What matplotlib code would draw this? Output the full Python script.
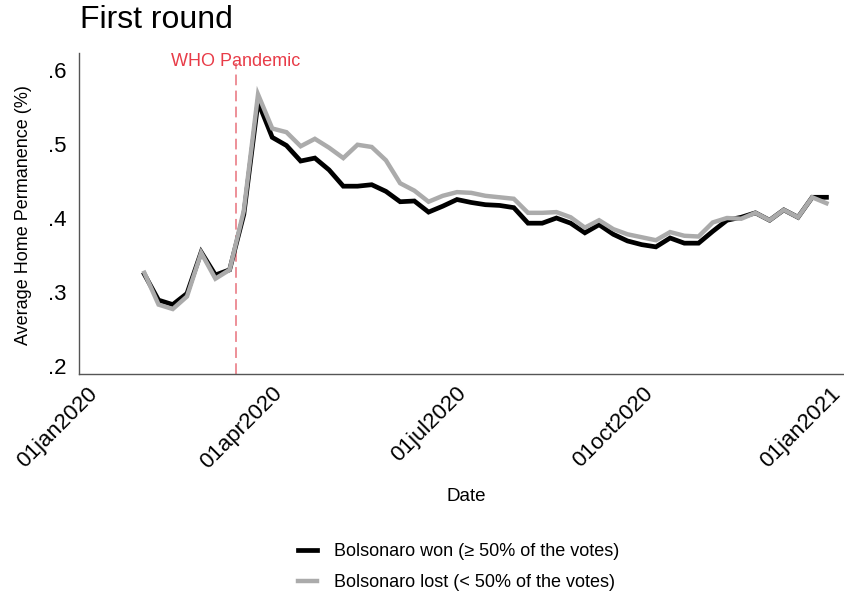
import matplotlib
matplotlib.use("Agg")
import matplotlib.pyplot as plt
from matplotlib.transforms import ScaledTranslation
import pandas as pd

plt.rcParams["font.family"] = ["Liberation Sans", "DejaVu Sans"]

# Weekly average home permanence by municipality group
weeks = pd.date_range("2020-01-26", periods=49, freq="7D")

bolsonaro_won = [
    0.324, 0.289, 0.283, 0.298, 0.354, 0.323, 0.330, 0.405, 0.557, 0.509,
    0.498, 0.477, 0.481, 0.465, 0.443, 0.443, 0.445, 0.436, 0.422, 0.423,
    0.408, 0.416, 0.425, 0.421, 0.418, 0.417, 0.414, 0.393, 0.393, 0.400,
    0.393, 0.380, 0.391, 0.378, 0.369, 0.364, 0.361, 0.373, 0.366, 0.366,
    0.382, 0.397, 0.401, 0.407, 0.397, 0.411, 0.401, 0.428, 0.428,
]
bolsonaro_lost = [
    0.326, 0.283, 0.277, 0.294, 0.353, 0.318, 0.330, 0.410, 0.567, 0.521,
    0.516, 0.497, 0.507, 0.495, 0.481, 0.499, 0.496, 0.478, 0.447, 0.437,
    0.422, 0.430, 0.435, 0.434, 0.430, 0.428, 0.426, 0.407, 0.407, 0.408,
    0.401, 0.387, 0.397, 0.385, 0.378, 0.374, 0.370, 0.381, 0.376, 0.375,
    0.394, 0.400, 0.399, 0.407, 0.397, 0.411, 0.401, 0.428, 0.420,
]

series_labels = ["Bolsonaro won (\u2265 50% of the votes)",
                 "Bolsonaro lost (< 50% of the votes)"]

xtick_dates = pd.to_datetime(["2020-01-01", "2020-04-01", "2020-07-01",
                              "2020-10-01", "2021-01-01"])
xtick_labels = ["01jan2020", "01apr2020", "01jul2020", "01oct2020", "01jan2021"]
ytick_values = [0.2, 0.3, 0.4, 0.5, 0.6]
ytick_labels = [".2", ".3", ".4", ".5", ".6"]

who_date = pd.Timestamp("2020-03-11")
who_label = "WHO Pandemic"

W, H = 844, 591
fig = plt.figure(figsize=(W / 100, H / 100), dpi=100)
ax = fig.add_axes([79 / W, 1 - 374 / H, 1 - 79 / W, (374 - 53) / H])

ax.plot(weeks, bolsonaro_won, color="black", lw=3.4, solid_joinstyle="miter",
        label=series_labels[0], zorder=3)
ax.plot(weeks, bolsonaro_lost, color="#ababab", lw=3.2, solid_joinstyle="miter",
        label=series_labels[1], zorder=4)

ax.axvline(who_date, ymin=0, ymax=0.97, color="#e8727c", lw=1.1,
           dashes=(7, 3.5), zorder=2)
ax.text(who_date, 0.9595, who_label, transform=ax.get_xaxis_transform(),
        color="#e83c48", fontsize=13, ha="center", va="baseline")

jan1 = pd.Timestamp("2020-01-01")
ax.set_xlim(jan1 - pd.Timedelta(days=7.19), jan1 + pd.Timedelta(days=369.65))
ax.set_ylim(0.1892, 0.623)

ax.set_xticks(xtick_dates)
ax.set_xticklabels(xtick_labels, rotation=45, ha="right", va="top",
                   rotation_mode="anchor", fontsize=16)
ax.set_yticks(ytick_values)
ax.set_yticklabels(ytick_labels, fontsize=16)
ax.tick_params(axis="x", length=0, pad=6.5)
ax.tick_params(axis="y", length=0, pad=9)
shift_left = ScaledTranslation(-7 / 100, 0, fig.dpi_scale_trans)
for lbl in ax.get_xticklabels():
    lbl.set_transform(lbl.get_transform() + shift_left)

for side in ("top", "right"):
    ax.spines[side].set_visible(False)
for side in ("left", "bottom"):
    ax.spines[side].set_color("#555555")
    ax.spines[side].set_linewidth(1.0)

ax.set_xlabel("Date", fontsize=13.5)
ax.xaxis.set_label_coords((466 - 79) / 765, (374 - 488) / 321)
ax.set_ylabel("Average Home Permanence (%)", fontsize=13)
ax.yaxis.set_label_coords((32 - 79) / 765, (374 - 215) / 321)

fig.text(80 / W, 1 - 28 / H, "First round", fontsize=23, ha="left",
         va="baseline")

handles, labels = ax.get_legend_handles_labels()
fig.legend(handles, labels, loc="upper left",
           bbox_to_anchor=(298 / W, 1 - 543 / H), frameon=False,
           fontsize=13, handlelength=1.05, handletextpad=0.92,
           labelspacing=0.78, borderpad=0, borderaxespad=0)

fig.savefig("out.png", dpi=100)
